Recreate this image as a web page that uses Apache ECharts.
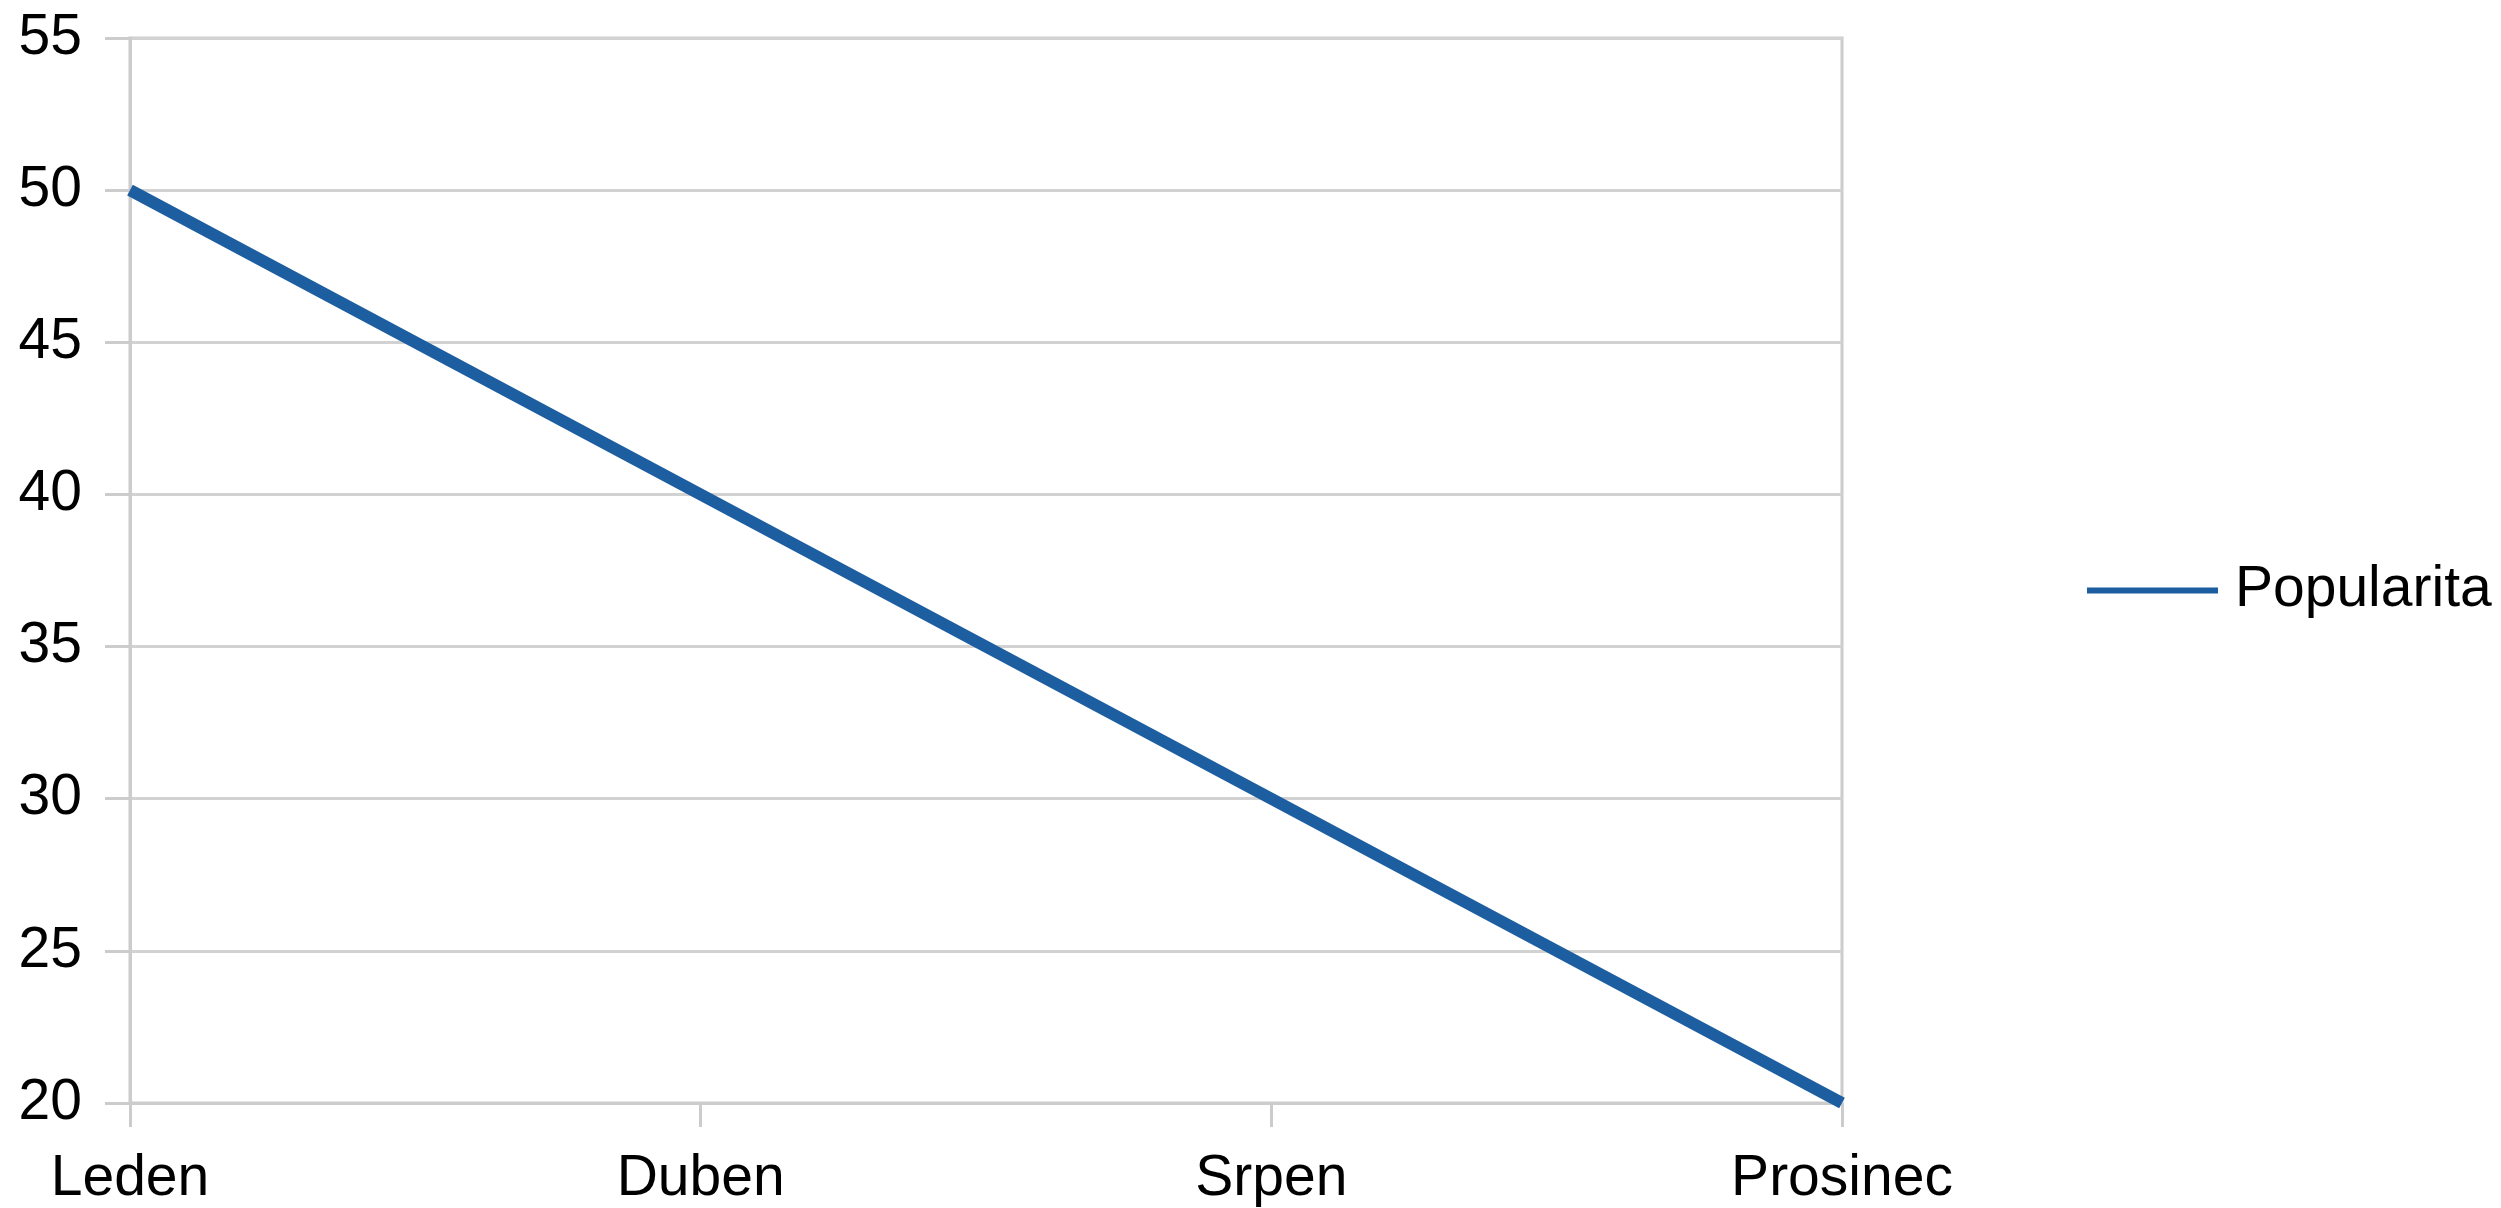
<!DOCTYPE html>
<html>
<head>
<meta charset="utf-8">
<script src="https://cdn.jsdelivr.net/npm/echarts@6/dist/echarts.min.js"></script>
<style>
html,body{margin:0;padding:0;background:#fff;}
#chart{width:2501px;height:1208px;}
</style>
</head>
<body>
<div id="chart"></div>
<script>
const categories = ['Leden', 'Duben', 'Srpen', 'Prosinec'];
const popularita = [50, 40, 30, 20];
const seriesName = 'Popularita';

const chart = echarts.init(document.getElementById('chart'));
const font = "'Liberation Sans', Arial, Helvetica, sans-serif";
chart.setOption({
  backgroundColor: '#ffffff',
  animation: false,
  grid: {
    left: 130, right: 659, top: 38, bottom: 104,
    show: true, borderColor: '#cccccc', borderWidth: 3
  },
  legend: {
    data: [seriesName],
    left: 2082, top: 557,
    icon: 'rect',
    itemWidth: 131, itemHeight: 6,
    textStyle: { fontFamily: font, fontSize: 57, color: '#000', padding: [0, 0, 0, 12] }
  },
  xAxis: {
    type: 'category',
    data: categories,
    boundaryGap: false,
    axisLine: { show: true, lineStyle: { color: '#cccccc', width: 3 } },
    axisTick: { show: true, length: 24, lineStyle: { color: '#cccccc', width: 3 } },
    splitLine: { show: false },
    axisLabel: { fontFamily: font, fontSize: 57, color: '#000', margin: 48 }
  },
  yAxis: {
    type: 'value',
    min: 20, max: 55, interval: 5,
    axisLine: { show: true, lineStyle: { color: '#cccccc', width: 3 } },
    axisTick: { show: true, length: 25, lineStyle: { color: '#cccccc', width: 3 } },
    splitLine: { show: true, lineStyle: { color: '#d2d2d2', width: 3 } },
    axisLabel: { fontFamily: font, fontSize: 57, color: '#000', margin: 48 }
  },
  series: [{
    name: seriesName,
    type: 'line',
    data: popularita,
    showSymbol: false,
    symbol: 'none',
    lineStyle: { color: '#1c5e9f', width: 12 },
    itemStyle: { color: '#1c5e9f' }
  }]
});
</script>
</body>
</html>
